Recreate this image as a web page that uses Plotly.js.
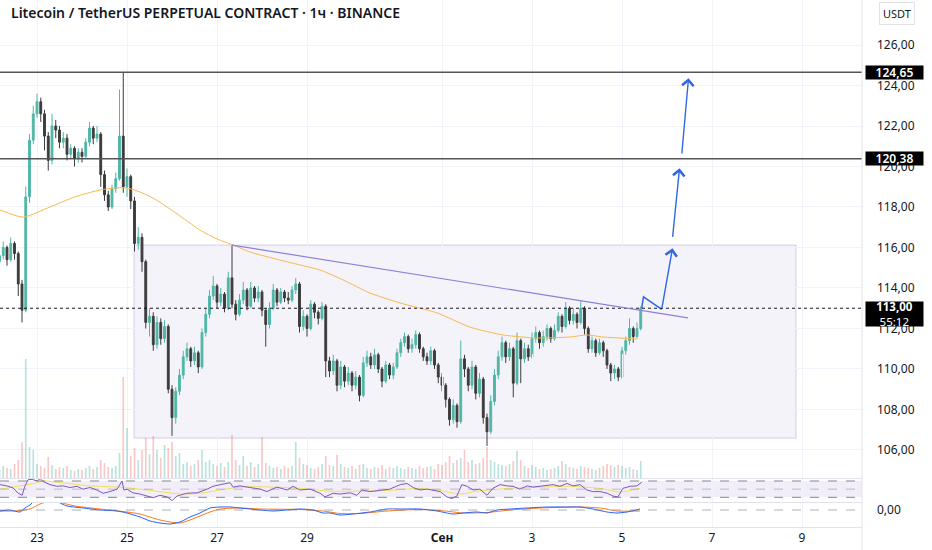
<!DOCTYPE html>
<html><head><meta charset="utf-8">
<script src="https://cdn.plot.ly/plotly-3.0.1.min.js"></script>
<style>html,body{margin:0;padding:0;background:#fff}#chart{width:932px;height:550px}</style>
</head><body><div id="chart"></div>
<script>
// ---------- data ----------
const chartTitle = 'Litecoin / TetherUS PERPETUAL CONTRACT · 1ч · BINANCE';
const currency = 'USDT';
const firstBarUTC = [2025, 7, 22, 4];   // Aug 22 04:00
const barHours = 2;
const firstOpen = 115.3;
const closes = [115.6,116.0,115.4,116.2,115.7,114.2,112.9,118.5,121.3,122.6,123.2,122.6,121.5,120.3,122.0,121.8,121.2,121.4,120.6,120.9,
120.4,120.7,120.5,121.2,121.9,121.4,121.6,119.6,118.6,118.0,118.9,119.4,121.5,119.0,119.5,118.3,116.2,116.5,115.3,112.3,
112.6,111.2,112.3,111.5,112.1,109.0,107.6,108.9,109.7,110.6,111.0,110.4,110.8,110.1,111.8,112.7,113.6,114.1,113.3,113.7,
113.0,114.5,113.2,112.7,113.4,113.9,113.1,114.0,113.5,113.8,112.9,112.2,113.0,113.9,113.3,113.8,113.5,113.4,113.9,114.2,
112.1,112.6,112.0,113.2,112.8,112.5,113.1,110.4,109.9,110.4,109.2,110.1,109.4,109.8,109.2,109.6,108.7,110.3,110.6,110.2,
110.7,110.0,109.4,110.2,109.7,110.1,110.8,111.3,111.6,111.0,111.2,111.7,111.0,110.6,110.4,110.9,110.2,109.6,109.2,108.5,
107.5,108.2,107.4,110.5,110.0,109.2,110.1,108.8,109.5,107.6,106.9,108.4,109.7,110.6,111.3,110.6,111.0,109.3,111.4,110.5,
111.0,110.6,111.5,111.8,111.3,111.6,112.0,111.5,111.9,112.6,112.1,113.0,112.4,112.7,112.3,113.0,112.0,111.0,111.4,110.8,
111.3,110.9,110.2,109.8,110.0,109.6,110.9,111.4,112.0,111.6,112.0,113.0];
const highs = [116.0,116.3,116.1,116.5,116.3,115.8,114.4,119.0,121.6,123.0,123.6,123.4,122.8,121.7,122.6,122.3,122.0,121.7,121.6,121.1,
121.0,120.9,120.9,121.4,122.2,122.0,122.0,121.7,119.8,118.8,119.1,119.7,123.8,124.65,119.9,119.6,118.5,117.0,116.7,115.4,
113.0,112.8,112.6,112.5,112.4,112.2,109.2,109.1,110.0,110.9,111.3,111.1,111.1,110.9,112.0,113.0,113.9,114.6,114.2,114.0,
113.8,114.8,116.1,113.4,113.7,114.3,114.0,114.3,114.1,114.1,113.9,113.0,113.3,114.2,114.0,114.0,113.9,113.8,114.1,114.5,
114.3,112.9,112.7,113.4,113.3,112.9,113.3,113.2,110.6,110.7,110.5,110.4,110.2,110.1,109.9,109.9,109.7,110.6,110.9,110.8,
111.0,110.8,110.1,110.4,110.3,110.3,111.0,111.5,111.8,111.7,111.5,111.9,111.8,111.1,110.8,111.1,111.0,110.3,109.8,109.3,
108.6,108.5,108.3,111.4,110.7,110.1,110.4,110.2,109.8,109.6,107.8,108.7,110.0,110.9,111.6,111.4,111.3,111.1,111.8,111.5,
111.3,111.2,111.8,112.1,111.9,111.9,112.2,112.1,112.2,112.8,112.7,113.3,113.1,113.0,112.8,113.35,113.1,112.1,111.6,111.5,
111.5,111.4,111.0,110.3,110.2,110.1,111.1,111.6,112.5,112.1,112.3,113.1];
const lows = [115.1,115.4,115.1,115.3,115.4,113.6,112.3,112.8,118.2,121.1,122.4,122.2,120.8,119.8,120.1,121.4,120.9,120.9,120.3,120.4,
120.0,120.2,120.2,120.4,121.0,121.1,121.2,119.0,118.3,117.8,117.9,118.7,119.3,118.7,118.5,117.9,115.8,115.9,114.8,112.0,
111.6,110.9,111.0,111.2,111.3,108.8,106.7,107.3,108.7,109.5,110.4,110.1,110.2,109.8,110.0,111.6,112.5,113.4,113.0,113.1,
112.8,112.9,113.0,112.4,112.6,113.2,112.9,113.0,113.3,113.3,112.6,111.1,112.0,112.9,113.1,113.2,113.3,113.2,113.3,113.7,
111.8,111.9,111.6,111.9,112.5,112.2,112.4,109.6,109.6,109.7,108.9,109.0,109.1,109.2,108.9,109.0,108.4,108.6,110.1,110.0,
110.0,109.8,109.1,109.3,109.5,109.5,110.0,110.6,111.1,110.8,110.8,111.0,110.8,110.4,110.2,110.2,110.0,109.3,108.9,108.1,
107.2,107.3,107.1,107.3,109.6,108.9,109.0,108.5,108.6,107.3,106.2,106.8,108.2,109.5,110.4,110.3,110.4,108.6,109.2,109.3,
110.3,110.4,110.5,111.3,111.0,111.1,111.4,111.3,111.4,111.8,111.8,112.0,112.2,112.2,112.0,112.2,111.7,110.8,110.8,110.6,
110.7,110.6,110.0,109.4,109.5,109.4,109.5,110.7,111.2,111.3,111.5,111.9];
const volumes = [8,12,10,9,14,18,36,119,31,28,14,12,10,21,13,9,11,10,12,8,
7,9,8,10,12,9,11,18,15,11,10,12,25,101,50,22,30,18,28,40,
24,42,28,20,33,30,36,22,25,14,16,12,14,18,28,16,18,14,12,15,
11,16,43,18,13,22,12,16,11,14,41,15,12,10,11,9,12,10,12,36,
20,14,13,10,9,11,14,22,13,12,23,14,11,10,12,9,13,14,10,9,
11,10,13,9,11,10,12,10,9,11,10,9,12,10,11,12,9,14,13,16,
22,15,18,20,28,16,18,14,15,20,31,18,16,14,13,12,14,17,27,18,
12,10,13,11,9,10,8,9,10,12,17,14,11,10,9,12,11,10,9,8,
10,12,14,13,11,13,12,10,11,9,8,17];

// moving average on price (day of August, Sep 1 = 32)
const maDays = [22.18,22.69,23.29,23.84,24.40,24.73,25.00,25.29,25.58,25.89,26.24,26.62,27.00,27.36,27.73,28.40,28.84,29.29,29.80,30.40,31.07,31.89,32.62,33.36,34.11,34.84,35.22,35.58,36.33];
const maVals = [117.85,117.5,118.0,118.5,118.84,118.94,118.94,118.74,118.44,118.0,117.46,116.86,116.42,116.12,115.78,115.38,115.14,114.89,114.40,113.75,113.26,112.77,112.07,111.68,111.53,111.58,111.68,111.58,111.48];

// RSI
const rsiDays = [22.18,22.33,22.47,22.58,22.67,22.73,22.80,22.89,23.00,23.07,23.13,23.29,23.44,23.58,23.73,23.89,24.02,24.18,24.33,24.47,24.62,24.78,24.89,24.93,25.00,25.13,25.29,25.44,25.58,25.73,25.89,26.00,26.11,26.33,26.56,26.78,26.91,27.07,27.29,27.36,27.51,27.73,27.96,28.11,28.33,28.56,28.69,28.84,29.07,29.29,29.40,29.58,29.73,29.96,30.11,30.22,30.40,30.62,30.84,31.07,31.22,31.36,31.51,31.67,31.80,31.96,32.11,32.22,32.33,32.44,32.56,32.69,32.84,33.00,33.13,33.29,33.44,33.58,33.73,33.89,34.02,34.18,34.47,34.62,34.78,34.91,35.07,35.22,35.36,35.51,35.67,35.80,35.91,36.02,36.18,36.33,36.44];
const rsiVals = [61,58,53,40,35,57,73,74,70,76,69,61,57,58,54,57,50,54,48,40,44,50,70,48,50,41,38,33,29,35,31,22,33,40,41,50,57,61,66,55,58,54,50,44,55,48,57,48,50,40,31,40,38,41,35,48,44,47,50,61,64,54,48,50,48,44,31,27,33,61,57,48,50,35,52,61,58,57,50,58,55,57,61,57,64,58,61,48,44,44,40,33,31,52,57,58,67];
const rsiMaDays = [22.18,22.84,23.18,23.51,24.18,24.84,25.29,25.73,26.18,26.62,27.07,27.51,27.96,28.84,29.51,30.18,30.84,31.51,31.96,32.40,32.84,33.51,34.18,34.84,35.51,35.96,36.40];
const rsiMaVals = [50,62,70,66,58,55,50,44,38,40,48,55,56,52,45,45,47,52,47,38,46,52,55,57,52,43,52];
const rsiLevels = [70, 50, 30];

// MACD
const macdDays = [22.178,22.400,22.622,22.733,22.844,22.956,23.178,23.400,23.556,23.667,24.022,24.400,24.778,25.000,25.289,25.511,25.733,25.956,26.178,26.400,26.622,26.844,27.067,27.289,27.511,27.956,28.244,28.556,28.844,29.133,29.356,29.511,29.733,30.022,30.400,30.778,31.133,31.511,31.889,32.244,32.467,32.778,33.000,33.222,33.511,33.889,34.333,34.778,35.067,35.356,35.667,35.889,36.111,36.400];
const macdVals = [-0.1,0,-0.2,0.2,0.5,1.0,1.5,1.0,0.6,0.4,0.2,0,-0.1,-0.3,-0.7,-1.1,-1.3,-1.4,-1.2,-0.7,-0.3,0.2,0.3,0.3,0.2,0,-0.1,0,0.1,0,-0.3,-0.3,-0.5,-0.4,-0.2,0.1,0.1,0.1,-0.1,-0.4,-0.3,-0.2,-0.3,0,0.1,0.2,0.3,0.3,0.3,0.1,-0.2,-0.3,-0.2,0.1];
const sigDays = [22.178,22.511,22.844,23.067,23.289,23.556,23.844,24.400,25.000,25.289,25.511,25.733,25.956,26.178,26.400,26.622,26.844,27.067,27.511,27.956,28.844,29.356,29.733,30.178,30.778,31.511,32.067,32.467,33.000,33.511,34.178,35.067,35.511,35.889,36.400];
const sigVals = [-0.1,-0.1,0.1,0.6,0.9,0.7,0.4,0.1,-0.2,-0.4,-0.7,-1.0,-1.2,-1.3,-1.0,-0.6,-0.2,0.1,0.2,0.1,0.05,-0.1,-0.35,-0.35,-0.1,0.05,-0.1,-0.3,-0.25,0,0.2,0.3,0.2,-0.1,-0.1];

// axes
const priceTicks = [106,108,110,112,114,116,118,120,122,124,126];
const dateTickDays = [23,25,27,29,32,34,36,38,40];
const dateTickText = ['23','25','27','29','<b>Сен</b>','3','5','7','9'];
const viewDays = [22.1778, 41.3333];
const priceRange = [104.617, 128.222];

// drawings
const levelPrices = [124.65, 120.38];
const levelLabels = ['124,65', '120,38'];
const lastPrice = 113.00;
const lastLabel = '<b>113,00</b><br>55:12';
const rectDays = [25.156, 39.867];
const rectPrices = [106.59, 116.12];
const trendDays = [27.333, 37.467];
const trendPrices = [116.12, 112.52];
const zigDays = [36.438, 36.478, 36.882];
const zigPrices = [113.0, 113.56, 112.95];
const arrowFromDays = [36.882, 37.122, 37.327];
const arrowFromPrices = [112.95, 116.45, 120.57];
const arrowToDays = [37.122, 37.278, 37.478];
const arrowToPrices = [115.96, 119.91, 124.36];

// ---------- build ----------
const DAY = 86400000, HOUR = 3600000;
const augBase = Date.UTC(2025, 7, 1);
function iso(ms){ return new Date(ms).toISOString().replace('T',' ').slice(0,19); }
function dstr(d){ return iso(augBase + (d - 1) * DAY); }
const t0 = Date.UTC(firstBarUTC[0], firstBarUTC[1], firstBarUTC[2], firstBarUTC[3]);
const times = closes.map((_, i) => iso(t0 + i * barHours * HOUR));
const opens = [firstOpen].concat(closes.slice(0, -1));

const UP = '#4fb6a8', DOWN = '#3b3b3b';
const volColors = closes.map((c, i) => c >= opens[i] ? 'rgba(38,166,154,0.32)' : 'rgba(239,83,80,0.32)');

const traces = [
  {type:'bar', x: times, y: volumes, yaxis:'y2', marker:{color: volColors}, width: barHours*HOUR*0.45, hoverinfo:'skip'},
  {type:'candlestick', x: times, open: opens, high: highs, low: lows, close: closes, yaxis:'y',
   increasing:{line:{color:UP, width:1}, fillcolor:UP}, decreasing:{line:{color:DOWN, width:1}, fillcolor:DOWN},
   whiskerwidth:0, hoverinfo:'skip'},
  {type:'scatter', mode:'lines', x: maDays.map(dstr), y: maVals, yaxis:'y', line:{color:'#f6b94e', width:1, shape:'spline', smoothing:0.6}, hoverinfo:'skip'},
  {type:'scatter', mode:'lines', x: zigDays.map(dstr), y: zigPrices, yaxis:'y', line:{color:'#2f67e6', width:1.5}, hoverinfo:'skip'},
  {type:'scatter', mode:'lines', x: rsiMaDays.map(dstr), y: rsiMaVals, yaxis:'y3', line:{color:'#f3df5a', width:1, shape:'spline', smoothing:0.6}, hoverinfo:'skip'},
  {type:'scatter', mode:'lines', x: rsiDays.map(dstr), y: rsiVals, yaxis:'y3', line:{color:'#7e57c2', width:1}, hoverinfo:'skip'},
  {type:'scatter', mode:'lines', x: sigDays.map(dstr), y: sigVals, yaxis:'y4', line:{color:'#ff7a1a', width:1, shape:'spline', smoothing:0.6}, hoverinfo:'skip'},
  {type:'scatter', mode:'lines', x: macdDays.map(dstr), y: macdVals, yaxis:'y4', line:{color:'#2962ff', width:1, shape:'spline', smoothing:0.6}, hoverinfo:'skip'}
];

const PH = 528; // plot height in px
const mainDom = [50/PH, 1], volDom = [50/PH, 174/PH], rsiDom = [26/PH, 49/PH], macdDom = [1/PH, 25/PH];

const shapes = [];
shapes.push({type:'rect', xref:'x', yref:'y', x0:dstr(rectDays[0]), x1:dstr(rectDays[1]), y0:rectPrices[0], y1:rectPrices[1],
  fillcolor:'rgba(149,117,205,0.09)', line:{color:'rgba(149,117,205,0.35)', width:1}, layer:'below'});
levelPrices.forEach(p => shapes.push({type:'line', xref:'paper', yref:'y', x0:0, x1:1, y0:p, y1:p, line:{color:'#555555', width:1.5}}));
shapes.push({type:'line', xref:'paper', yref:'y', x0:0, x1:1, y0:lastPrice, y1:lastPrice, line:{color:'#131722', width:1, dash:'dot'}});
shapes.push({type:'line', xref:'x', yref:'y', x0:dstr(trendDays[0]), x1:dstr(trendDays[1]), y0:trendPrices[0], y1:trendPrices[1], line:{color:'#8b80d8', width:1.2}});
shapes.push({type:'rect', xref:'paper', yref:'y3', x0:0, x1:1, y0:rsiLevels[2], y1:rsiLevels[0], fillcolor:'rgba(126,87,194,0.10)', line:{width:0}, layer:'below'});
rsiLevels.forEach((v, k) => shapes.push({type:'line', xref:'paper', yref:'y3', x0:0, x1:1, y0:v, y1:v,
  line:{color: k===1 ? 'rgba(120,123,134,0.45)' : 'rgba(120,123,134,0.9)', width:1, dash:'dash'}}));
shapes.push({type:'line', xref:'paper', yref:'y4', x0:0, x1:1, y0:0, y1:0, line:{color:'rgba(120,123,134,0.6)', width:1, dash:'dash'}});
// pane separators and price-scale border
[50/PH - 0.001, 26/PH - 0.001].forEach(y => shapes.push({type:'line', xref:'paper', yref:'paper', x0:0, x1:1, y0:y, y1:y, line:{color:'#e0e3eb', width:1}}));
shapes.push({type:'line', xref:'paper', yref:'paper', x0:1, x1:1, y0:-22/PH, y1:1, line:{color:'#e0e3eb', width:1}});

const annotations = [];
annotations.push({xref:'paper', yref:'paper', x:0, y:1, xanchor:'left', yanchor:'middle', xshift:9, yshift:-12, showarrow:false,
  text: chartTitle, font:{family:'Noto Sans, sans-serif', size:14, color:'#131722', weight:600}});
annotations.push({xref:'paper', yref:'paper', x:897/862, y:1, xanchor:'center', yanchor:'middle', yshift:-13, showarrow:false,
  text: currency, font:{family:'Noto Sans, sans-serif', size:11, color:'#131722'}, bordercolor:'rgba(210,214,224,0.7)', borderwidth:1, borderpad:3});
levelPrices.forEach((p, k) => annotations.push({xref:'paper', yref:'y', x:865/862, y:p, xanchor:'left', yanchor:'middle', showarrow:false,
  text: levelLabels[k], bgcolor:'#000000', width:57, height:13, borderpad:0, align:'center',
  font:{family:'Noto Sans, sans-serif', size:12, color:'#ffffff', weight:600}}));
annotations.push({xref:'paper', yref:'y', x:865/862, y:lastPrice, xanchor:'left', yanchor:'top', yshift:7, showarrow:false,
  text: lastLabel, bgcolor:'#000000', width:57, height:24, borderpad:0, align:'center',
  font:{family:'Noto Sans, sans-serif', size:11.5, color:'#ffffff'}});
arrowToDays.forEach((d, k) => annotations.push({xref:'x', yref:'y', axref:'x', ayref:'y', x:dstr(d), y:arrowToPrices[k],
  ax:dstr(arrowFromDays[k]), ay:arrowFromPrices[k], text:'', showarrow:true, arrowhead:4, arrowsize:1.6, arrowwidth:1.4, arrowcolor:'#2f67e6', standoff:0, startstandoff:0}));

const tickFont = {family:'Noto Sans, sans-serif', size:12, color:'#131722'};
const layout = {
  width:932, height:550, margin:{l:0, r:70, t:0, b:22},
  paper_bgcolor:'#ffffff', plot_bgcolor:'rgba(0,0,0,0)',
  separators:', ', showlegend:false, hovermode:false,
  xaxis:{type:'date', range:[dstr(viewDays[0]), dstr(viewDays[1])], anchor:'y4',
    tickvals: dateTickDays.map(dstr), ticktext: dateTickText, tickfont: tickFont, ticks:'',
    showgrid:true, gridcolor:'#f0f3fa', gridwidth:1, showline:true, linecolor:'#e0e3eb', zeroline:false,
    rangeslider:{visible:false}, fixedrange:true},
  yaxis:{domain: mainDom, range: priceRange, side:'right', tickvals: priceTicks, tickformat:'.2f', tickfont: tickFont,
    ticks:'', ticklabelstandoff:14, showgrid:true, gridcolor:'#f0f3fa', zeroline:false, fixedrange:true},
  yaxis2:{domain: volDom, range:[0,124], visible:false, fixedrange:true},
  yaxis3:{domain: rsiDom, range:[18.5,74.9], visible:false, fixedrange:true},
  yaxis4:{domain: macdDom, range:[-1.7,0.7], side:'right', tickvals:[0], tickformat:'.2f', tickfont: tickFont,
    ticks:'', ticklabelstandoff:14, showgrid:false, zeroline:false, fixedrange:true},
  shapes: shapes, annotations: annotations
};
Plotly.newPlot('chart', traces, layout, {staticPlot:true, displayModeBar:false});
</script></body></html>
